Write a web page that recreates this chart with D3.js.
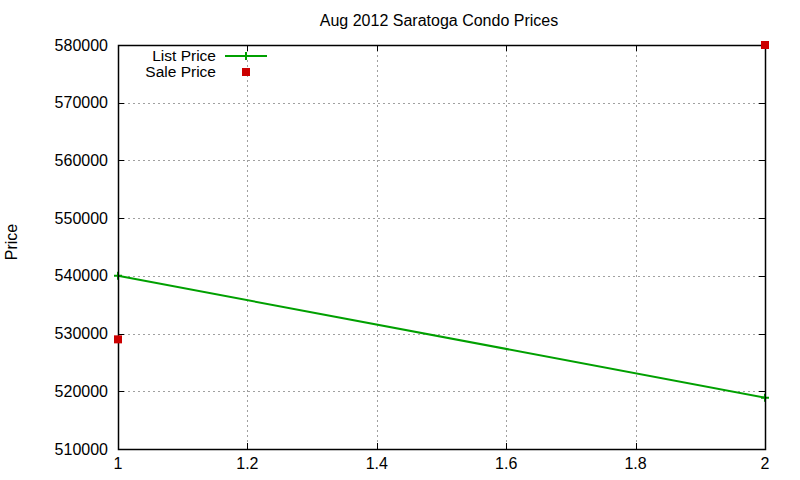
<!DOCTYPE html>
<html>
<head>
<meta charset="utf-8">
<script src="https://cdn.jsdelivr.net/npm/d3@7"></script>
<style>
  body { margin: 0; background: #fff; }
  svg { display: block; font-family: "Liberation Sans", Arial, sans-serif; }
</style>
</head>
<body>
<div id="chart"></div>
<script>
(function () {
  "use strict";

  // values
  const TITLE = "Aug 2012 Saratoga Condo Prices";
  const Y_LABEL = "Price";
  const SERIES_NAMES = ["List Price", "Sale Price"];
  const LIST_X = [1, 2];
  const LIST_PRICE = [540000, 518900];
  const SALE_X = [1, 2];
  const SALE_PRICE = [529000, 580000];
  const X_TICKS = [1, 1.2, 1.4, 1.6, 1.8, 2];
  const Y_TICKS = [510000, 520000, 530000, 540000, 550000, 560000, 570000, 580000];

  const width = 800;
  const height = 480;
  // plot box
  const left = 118, right = 765, top = 45, bottom = 449;
  const tickLen = 6;
  const green = "#00a000";
  const red = "#cc0000";

  const svg = d3.select("#chart").append("svg")
    .attr("width", width)
    .attr("height", height);

  const x = d3.scaleLinear().domain([1, 2]).range([left, right]);
  const y = d3.scaleLinear().domain([510000, 580000]).range([bottom, top]);

  // dotted grid
  const grid = svg.append("g")
    .attr("stroke", "#a0a0a0")
    .attr("stroke-width", 1)
    .attr("stroke-dasharray", "2,3");
  grid.selectAll(".gx")
    .data(X_TICKS.slice(1, -1))
    .join("line")
    .attr("x1", (d) => Math.round(x(d)) + 0.5).attr("x2", (d) => Math.round(x(d)) + 0.5)
    .attr("y1", top).attr("y2", bottom);
  grid.selectAll(".gy")
    .data(Y_TICKS.slice(1, -1))
    .join("line")
    .attr("y1", (d) => Math.round(y(d)) + 0.5).attr("y2", (d) => Math.round(y(d)) + 0.5)
    .attr("x1", left).attr("x2", right);

  // ticks, mirrored on top and right
  const ticks = svg.append("g").attr("stroke", "#000").attr("stroke-width", 1);
  X_TICKS.forEach((t) => {
    const px = Math.round(x(t)) + 0.5;
    ticks.append("line").attr("x1", px).attr("x2", px).attr("y1", bottom).attr("y2", bottom - tickLen);
    ticks.append("line").attr("x1", px).attr("x2", px).attr("y1", top).attr("y2", top + tickLen);
  });
  Y_TICKS.forEach((t) => {
    const py = Math.round(y(t)) + 0.5;
    ticks.append("line").attr("y1", py).attr("y2", py).attr("x1", left).attr("x2", left + tickLen);
    ticks.append("line").attr("y1", py).attr("y2", py).attr("x1", right).attr("x2", right - tickLen);
  });

  // tick labels
  svg.append("g").selectAll("text")
    .data(X_TICKS)
    .join("text")
    .attr("x", (d) => x(d))
    .attr("y", 469)
    .attr("text-anchor", "middle")
    .attr("font-size", 16)
    .attr("fill", "#000")
    .text((d) => d3.format("~g")(d));
  svg.append("g").selectAll("text")
    .data(Y_TICKS)
    .join("text")
    .attr("x", left - 10)
    .attr("y", (d) => y(d) + 5.5)
    .attr("text-anchor", "end")
    .attr("font-size", 16)
    .attr("fill", "#000")
    .text((d) => d);

  // title and axis label
  svg.append("text")
    .attr("x", 439)
    .attr("y", 26)
    .attr("text-anchor", "middle")
    .attr("font-size", 16)
    .text(TITLE);
  svg.append("text")
    .attr("transform", "translate(17,242) rotate(-90)")
    .attr("text-anchor", "middle")
    .attr("font-size", 16)
    .text(Y_LABEL);

  // list price line
  const listData = LIST_X.map((d, i) => [d, LIST_PRICE[i]]);
  svg.append("path")
    .attr("d", d3.line().x((d) => x(d[0])).y((d) => y(d[1]))(listData))
    .attr("fill", "none")
    .attr("stroke", green)
    .attr("stroke-width", 2);
  svg.append("g").selectAll("path")
    .data(listData)
    .join("path")
    .attr("d", (d) => `M${x(d[0]) - 4},${y(d[1])}h8M${x(d[0])},${y(d[1]) - 4}v8`)
    .attr("stroke", green)
    .attr("stroke-width", 2);

  // sale price squares
  const saleData = SALE_X.map((d, i) => [d, SALE_PRICE[i]]);

  // plot border
  svg.append("rect")
    .attr("x", left + 0.5).attr("y", top + 0.5)
    .attr("width", right - left).attr("height", bottom - top)
    .attr("fill", "none")
    .attr("stroke", "#000")
    .attr("stroke-width", 1.5);

  svg.append("g").selectAll("rect")
    .data(saleData)
    .join("rect")
    .attr("x", (d) => x(d[0]) - 4)
    .attr("y", (d) => y(d[1]) - 4)
    .attr("width", 8)
    .attr("height", 8)
    .attr("fill", red);

  // legend
  const legend = svg.append("g").attr("font-size", 15.5);
  legend.append("text").attr("x", 216).attr("y", 61).attr("text-anchor", "end").text(SERIES_NAMES[0]);
  legend.append("path").attr("d", "M225,56H267M246,52V60").attr("stroke", green).attr("stroke-width", 2);
  legend.append("text").attr("x", 216).attr("y", 77).attr("text-anchor", "end").text(SERIES_NAMES[1]);
  legend.append("rect").attr("x", 242).attr("y", 68).attr("width", 8).attr("height", 8).attr("fill", red);
})();
</script>
</body>
</html>
